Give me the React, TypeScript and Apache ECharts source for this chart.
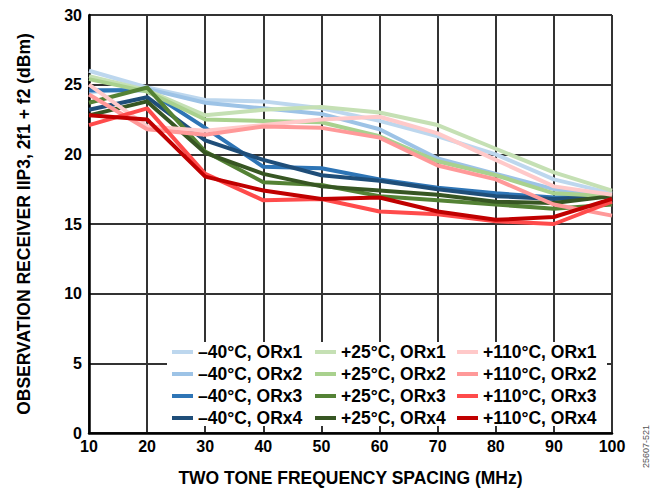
import React, { useEffect, useRef } from "react";
import * as echarts from "echarts";

const freqs = [10, 20, 30, 40, 50, 60, 70, 80, 90, 100];

const m40_orx1 = [26.0, 24.8, 23.9, 23.8, 23.3, 22.4, 21.3, 20.0, 18.2, 17.2];
const m40_orx2 = [24.5, 24.7, 23.7, 23.3, 22.9, 21.8, 19.7, 18.6, 17.5, 17.0];
const m40_orx3 = [24.6, 24.6, 21.9, 19.1, 19.0, 18.2, 17.6, 17.2, 16.9, 17.0];
const m40_orx4 = [23.2, 24.1, 21.0, 19.6, 18.5, 18.1, 17.5, 17.0, 16.8, 17.0];
const p25_orx1 = [25.6, 24.6, 22.8, 23.2, 23.4, 23.0, 22.1, 20.4, 18.7, 17.4];
const p25_orx2 = [25.4, 24.5, 22.5, 22.4, 22.3, 21.3, 19.5, 18.5, 17.2, 17.0];
const p25_orx3 = [23.7, 24.8, 20.2, 18.0, 17.8, 17.0, 16.7, 16.4, 16.1, 16.4];
const p25_orx4 = [22.8, 23.8, 20.1, 18.6, 17.7, 17.4, 17.1, 16.6, 16.5, 17.0];
const p110_orx1 = [25.0, 22.0, 21.7, 22.1, 22.5, 22.7, 21.5, 19.6, 17.7, 17.1];
const p110_orx2 = [24.3, 21.8, 21.4, 22.0, 21.9, 21.2, 19.2, 18.2, 16.4, 15.6];
const p110_orx3 = [22.1, 23.3, 18.6, 16.7, 16.8, 15.9, 15.7, 15.2, 15.0, 16.6];
const p110_orx4 = [22.8, 22.5, 18.4, 17.4, 16.8, 16.9, 15.9, 15.3, 15.5, 16.8];

const seriesNames = [
  "–40°C, ORx1", "–40°C, ORx2", "–40°C, ORx3", "–40°C, ORx4",
  "+25°C, ORx1", "+25°C, ORx2", "+25°C, ORx3", "+25°C, ORx4",
  "+110°C, ORx1", "+110°C, ORx2", "+110°C, ORx3", "+110°C, ORx4",
];
const seriesValues = [
  m40_orx1, m40_orx2, m40_orx3, m40_orx4,
  p25_orx1, p25_orx2, p25_orx3, p25_orx4,
  p110_orx1, p110_orx2, p110_orx3, p110_orx4,
];
const seriesColors = [
  "#BDD7EE", "#9DC3E6", "#2E75B6", "#1F4E79",
  "#C5E0B4", "#A9D18E", "#548235", "#375623",
  "#FFC9C9", "#FF9999", "#FF4B4B", "#C00000",
];

const FONT = "'Liberation Sans', Arial, sans-serif";

export default function App() {
  const ref = useRef<HTMLDivElement>(null);
  useEffect(() => {
    const chart = echarts.init(ref.current!, null, { renderer: "svg" });
    const legendLefts = [172, 315, 457];
    chart.setOption({
      animation: false,
      backgroundColor: "#ffffff",
      grid: { left: 89, right: 41, top: 15, bottom: 60, containLabel: false },
      xAxis: {
        type: "value",
        min: 10,
        max: 100,
        interval: 10,
        name: "TWO TONE FREQUENCY SPACING (MHz)",
        nameLocation: "middle",
        nameGap: 36,
        nameTextStyle: { fontFamily: FONT, fontWeight: "bold", fontSize: 17.5, color: "#000" },
        axisLine: { show: true, lineStyle: { color: "#000", width: 2.5 } },
        axisTick: { show: false },
        axisLabel: { fontFamily: FONT, fontWeight: "bold", fontSize: 16, color: "#000", margin: 5 },
        splitLine: { show: true, lineStyle: { color: "#333", width: 2 } },
      },
      yAxis: {
        type: "value",
        min: 0,
        max: 30,
        interval: 5,
        name: "OBSERVATION RECEIVER IIP3, 2f1 + f2 (dBm)",
        nameLocation: "middle",
        nameGap: 56,
        nameTextStyle: { fontFamily: FONT, fontWeight: "bold", fontSize: 17.5, color: "#000" },
        axisLine: { show: true, lineStyle: { color: "#000", width: 2.5 } },
        axisTick: { show: false },
        axisLabel: { fontFamily: FONT, fontWeight: "bold", fontSize: 16, color: "#000", margin: 7 },
        splitLine: { show: true, lineStyle: { color: "#333", width: 2 } },
      },
      graphic: [
        {
          type: "rect",
          z: 3,
          shape: { x: 167, y: 342, width: 440, height: 84 },
          style: { fill: "#ffffff" },
        },
        {
          type: "text",
          x: 646,
          y: 425,
          rotation: Math.PI / 2,
          style: {
            text: "25607-521",
            fontFamily: FONT,
            fontSize: 9,
            fill: "#555",
            align: "right",
            verticalAlign: "middle",
          },
        },
      ],
      legend: legendLefts.map((left, i) => ({
        orient: "vertical",
        left,
        top: 343,
        padding: 0,
        itemWidth: 21,
        itemHeight: 4,
        itemGap: 4,
        icon: "rect",
        z: 4,
        data: seriesNames.slice(i * 4, i * 4 + 4),
        textStyle: {
          fontFamily: FONT,
          fontWeight: "bold",
          fontSize: 17.5,
          lineHeight: 17,
          color: "#000",
        },
      })),
      series: seriesNames.map((name, i) => ({
        name,
        type: "line",
        showSymbol: false,
        symbol: "none",
        data: freqs.map((f, j) => [f, seriesValues[i][j]]),
        lineStyle: { color: seriesColors[i], width: 4 },
        itemStyle: { color: seriesColors[i] },
        z: 2,
      })),
    });
    return () => chart.dispose();
  }, []);
  return (
    <div
      ref={ref}
      style={{ position: "fixed", left: 0, top: 0, width: 653, height: 493, background: "#fff" }}
    />
  );
}
